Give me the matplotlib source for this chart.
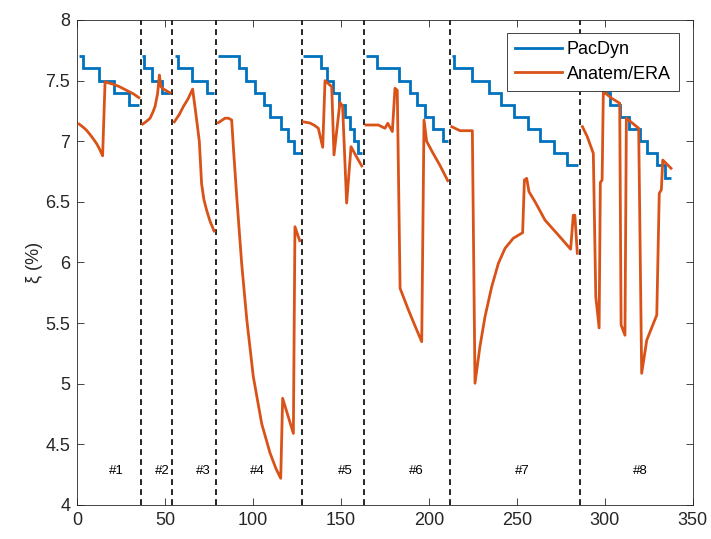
import matplotlib
matplotlib.use("Agg")
import matplotlib.pyplot as plt

plt.rcParams['font.family'] = ['Liberation Sans', 'DejaVu Sans']

BLUE = '#0072BD'
ORANGE = '#D95319'
AX_COLOR = '#262626'

# PacDyn damping: stair edges and levels for each case
pacdyn_edges = [
    [1, 3, 12.5, 21, 29.5, 35],
    [37, 37.8, 42.3, 48, 52.7],
    [55.5, 57.5, 65.5, 73.5, 78],
    [80, 92, 96, 101, 106, 109.5, 116, 120, 123, 127],
    [128.5, 138.4, 141.8, 145.5, 149, 152.3, 155.2, 157.6, 159.9, 161.8],
    [164, 170.5, 183, 189, 193, 198, 202.5, 208, 211],
    [213, 214.5, 224.5, 234, 241, 248.5, 256.5, 263, 271, 278.5, 285],
    [287, 290, 295, 299.5, 303, 308.7, 314, 320, 324, 329.5, 334.5, 337.5],
]
pacdyn_levels = [
    [7.7, 7.6, 7.5, 7.4, 7.3],
    [7.7, 7.6, 7.5, 7.4],
    [7.7, 7.6, 7.5, 7.4],
    [7.7, 7.6, 7.5, 7.4, 7.3, 7.2, 7.1, 7.0, 6.9],
    [7.7, 7.6, 7.5, 7.4, 7.3, 7.2, 7.1, 7.0, 6.9],
    [7.7, 7.6, 7.5, 7.4, 7.3, 7.2, 7.1, 7.0],
    [7.7, 7.6, 7.5, 7.4, 7.3, 7.2, 7.1, 7.0, 6.9, 6.8],
    [7.7, 7.6, 7.5, 7.4, 7.3, 7.2, 7.1, 7.0, 6.9, 6.8, 6.7],
]

# Anatem/ERA damping estimates for each case
anatem_x = [
    [1, 3, 5.3, 7, 9.1, 11, 12.5, 14.4, 15.8, 18, 20.5, 24, 28, 32, 35],
    [37.2, 39, 41.4, 43, 44.2, 45.7, 46.7, 47.6, 49, 52.7],
    [55.2, 58, 60.3, 63, 65.6, 67.5, 69.4, 70.7, 72, 73.6, 75.5, 77.8],
    [80.2, 82, 84, 86, 87.8, 89, 90.7, 93.5, 96.4, 100.1, 104.9, 109.6, 113,
     115.7, 116.8, 122.9, 123.8, 126.5],
    [128.6, 132.4, 135, 137.1, 139.6, 140.9, 144.7, 146, 149.4, 150.9, 153.2,
     155.7, 158.5, 161.8],
    [164.2, 171.2, 175, 176.6, 179.2, 180.7, 182, 183.6, 188.3, 192, 195.9,
     197.2, 198.7, 202, 206.3, 210.7],
    [213, 214.8, 217.7, 224.7, 226.2, 229, 231.9, 235.7, 239.5, 243.3, 248,
     253.3, 254.3, 255.6, 256.9, 260.4, 266, 274.6, 280.6, 282.1, 283, 284.4],
    [287.3, 290, 293.5, 294.9, 296.8, 297.5, 298.5, 299.2, 304, 308.5, 309.3,
     311.5, 312.3, 319.3, 321, 323.9, 329.6, 331, 332.2, 333, 337.7],
]
anatem_y = [
    [7.142, 7.12, 7.09, 7.06, 7.02, 6.98, 6.94, 6.88, 7.49, 7.48, 7.47, 7.45,
     7.42, 7.39, 7.36],
    [7.142, 7.16, 7.19, 7.24, 7.285, 7.395, 7.546, 7.45, 7.43, 7.40],
    [7.16, 7.22, 7.285, 7.35, 7.43, 7.22, 7.0, 6.65, 6.52, 6.43, 6.34, 6.26],
    [7.153, 7.17, 7.19, 7.19, 7.175, 6.9, 6.54, 5.99, 5.53, 5.06, 4.67, 4.43,
     4.30, 4.22, 4.88, 4.59, 6.295, 6.18],
    [7.16, 7.15, 7.13, 7.107, 6.95, 7.5, 7.45, 6.887, 7.32, 7.29, 6.49, 6.955,
     6.88, 6.796],
    [7.134, 7.134, 7.107, 7.148, 7.08, 7.437, 7.42, 5.787, 5.61, 5.48, 5.347,
     7.175, 7.0, 6.91, 6.80, 6.675],
    [7.12, 7.107, 7.087, 7.087, 5.004, 5.306, 5.553, 5.80, 5.993, 6.117, 6.2,
     6.246, 6.68, 6.694, 6.584, 6.50, 6.35, 6.21, 6.11, 6.39, 6.39, 6.076],
    [7.12, 7.04, 6.90, 5.72, 5.46, 6.66, 6.68, 7.41, 7.354, 7.313, 5.485, 5.40,
     7.19, 7.107, 5.086, 5.36, 5.567, 6.57, 6.6, 6.845, 6.777],
]

# case boundaries and case labels
case_bounds = [36, 54, 79, 128, 163, 212, 286]
case_names = ['#1', '#2', '#3', '#4', '#5', '#6', '#7', '#8']
case_label_x = [22.4, 48.2, 71.8, 102.6, 152.5, 193, 253, 320]
case_label_y = 4.28

fig = plt.figure(figsize=(7.11, 5.39), dpi=100)
ax = fig.add_axes([0.1087, 0.0631, 0.8655, 0.8998])

for i, (edges, levels) in enumerate(zip(pacdyn_edges, pacdyn_levels)):
    ax.stairs(levels, edges, baseline=None, color=BLUE, linewidth=2.0,
              label='PacDyn' if i == 0 else None, zorder=3)

for i, (xs, ys) in enumerate(zip(anatem_x, anatem_y)):
    ax.plot(xs, ys, color=ORANGE, linewidth=2.0, solid_joinstyle='round',
            label='Anatem/ERA' if i == 0 else None, zorder=4)

for xb in case_bounds:
    ax.axvline(xb, color='black', linewidth=1.2, linestyle=(0, (3.5, 2.5)),
               zorder=2)

for name, xl in zip(case_names, case_label_x):
    ax.text(xl, case_label_y, name, ha='center', va='center', fontsize=9.5,
            color='black')

ax.set_xlim(0, 350)
ax.set_ylim(4, 8)
ax.set_xticks(range(0, 351, 50))
ax.set_yticks([4, 4.5, 5, 5.5, 6, 6.5, 7, 7.5, 8])
ax.set_yticklabels(['4', '4.5', '5', '5.5', '6', '6.5', '7', '7.5', '8'])
ax.set_ylabel('ξ (%)', fontsize=13, color=AX_COLOR, labelpad=2)

ax.tick_params(direction='in', top=True, right=True, length=5, width=0.6,
               colors=AX_COLOR, labelsize=13, pad=5)
for sp in ax.spines.values():
    sp.set_color(AX_COLOR)
    sp.set_linewidth(0.6)

leg = ax.legend(loc='upper right', bbox_to_anchor=(0.9777, 0.9732),
                borderaxespad=0, fontsize=13, handlelength=2.6,
                handletextpad=0.25, labelspacing=0.42, borderpad=0.45,
                fancybox=False, framealpha=1, edgecolor=AX_COLOR)
leg.get_frame().set_linewidth(0.6)
leg.set_zorder(10)

fig.savefig('out.png', dpi=100)
